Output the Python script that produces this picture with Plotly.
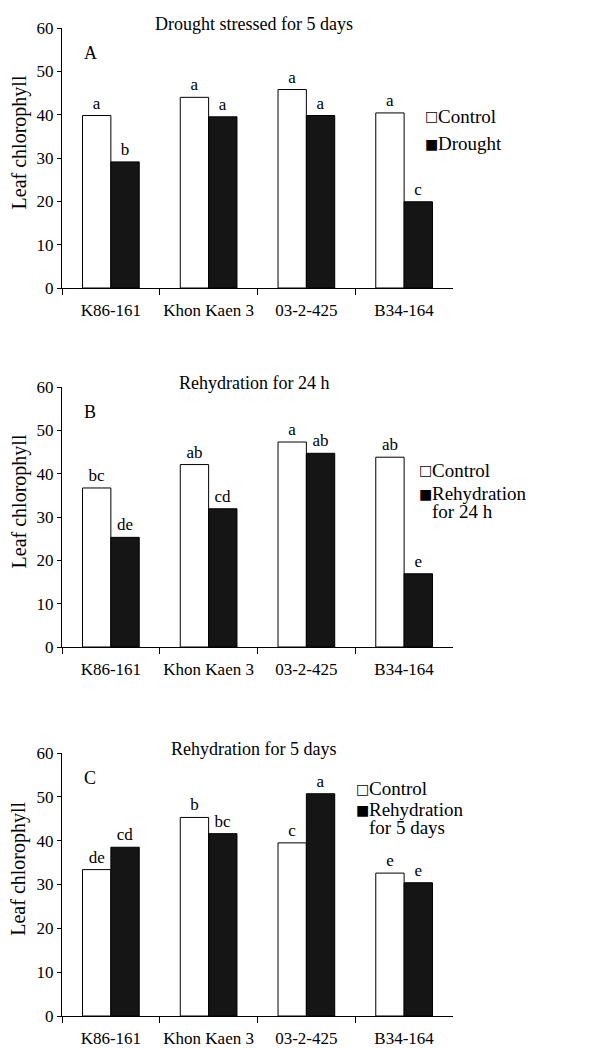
import plotly.graph_objects as go

cultivars = ["K86-161", "Khon Kaen 3", "03-2-425", "B34-164"]
y_ticks = [0, 10, 20, 30, 40, 50, 60]

titles = ["Drought stressed for 5 days", "Rehydration for 24 h", "Rehydration for 5 days"]
panel_letters = ["A", "B", "C"]

control_a = [39.8, 44.0, 45.8, 40.4]
drought_a = [29.1, 39.5, 39.8, 19.9]
control_a_lbl = ["a", "a", "a", "a"]
drought_a_lbl = ["b", "a", "a", "c"]

control_b = [36.7, 42.1, 47.3, 43.8]
rehyd24_b = [25.3, 31.9, 44.7, 16.9]
control_b_lbl = ["bc", "ab", "a", "ab"]
rehyd24_b_lbl = ["de", "cd", "ab", "e"]

control_c = [33.4, 45.3, 39.5, 32.6]
rehyd5_c = [38.5, 41.6, 50.7, 30.4]
control_c_lbl = ["de", "b", "c", "e"]
rehyd5_c_lbl = ["cd", "bc", "a", "e"]

treat_names = [["Drought"], ["Rehydration", "for 24 h"], ["Rehydration", "for 5 days"]]

FONT = "Liberation Serif"
W, H = 612, 1049
OFF = 8  # page body margin

panels = [
    (control_a, control_a_lbl, drought_a, drought_a_lbl),
    (control_b, control_b_lbl, rehyd24_b, rehyd24_b_lbl),
    (control_c, control_c_lbl, rehyd5_c, rehyd5_c_lbl),
]

# pixel layout of each panel (top, bottom) in page pixels
px_rows = [(28, 288), (387, 647), (753, 1016)]
x_left, x_right = 62, 453

# legend placement (data coords: x of square, y rows)
legend_pos = [
    (3.19, [39.6, 33.3]),
    (3.13, [40.8, 35.4, 31.2]),
    (2.49, [51.9, 47.1, 43.1]),
]

fig = go.Figure()
annotations = []

for i, (c_vals, c_lbl, t_vals, t_lbl) in enumerate(panels):
    n = "" if i == 0 else str(i + 1)
    xa, ya = "x" + n, "y" + n
    fig.add_trace(go.Bar(
        x=cultivars, y=c_vals, text=c_lbl, textposition="outside",
        constraintext="none", cliponaxis=False,
        textfont=dict(family=FONT, size=17, color="black"),
        marker=dict(color="white", line=dict(color="black", width=1)),
        xaxis=xa, yaxis=ya, showlegend=False, name="Control"))
    fig.add_trace(go.Bar(
        x=cultivars, y=t_vals, text=t_lbl, textposition="outside",
        constraintext="none", cliponaxis=False,
        textfont=dict(family=FONT, size=17, color="black"),
        marker=dict(color="#151515", line=dict(color="black", width=1)),
        xaxis=xa, yaxis=ya, showlegend=False, name=" ".join(treat_names[i])))

    top, bot = px_rows[i]
    dom_y = [1 - (bot - OFF) / H, 1 - (top - OFF) / H]
    dom_x = [(x_left - OFF) / W, (x_right - OFF) / W]
    axis_common = dict(showline=True, linecolor="black", linewidth=1,
                       ticks="outside", tickcolor="black", automargin=False,
                       tickfont=dict(family=FONT, size=17, color="black"),
                       showgrid=False, zeroline=False)
    fig.layout["xaxis" + n] = dict(domain=dom_x, anchor=ya, type="category",
                                   tickson="boundaries", ticklen=6, tickangle=0,
                                   ticklabelstandoff=7,
                                   range=[-0.5, 3.5], **axis_common)
    fig.layout["yaxis" + n] = dict(domain=dom_y, anchor=xa, range=[0, 60],
                                   tickvals=y_ticks, ticklen=4, **axis_common)

    # panel title
    annotations.append(dict(text=titles[i], xref=xa + " domain", yref=ya + " domain",
                            x=0.49, y=1.0, yshift=4, xanchor="center", yanchor="middle",
                            showarrow=False, font=dict(family=FONT, size=18, color="black")))
    # panel letter
    annotations.append(dict(text=panel_letters[i], xref=xa, yref=ya, x=-0.21,
                            y=54.3, xanchor="center", yanchor="middle", showarrow=False,
                            font=dict(family=FONT, size=18, color="black")))
    # y-axis title
    annotations.append(dict(text="Leaf chlorophyll", xref="paper", yref=ya + " domain",
                            x=(19 - OFF) / W, y=0.56, xanchor="center", yanchor="middle",
                            textangle=-90, showarrow=False,
                            font=dict(family=FONT, size=20, color="black")))
    # legend
    lx, rows = legend_pos[i]
    names = ["Control"] + treat_names[i]
    symbols = ["\u25A1", "\u25A0"] + [""] * (len(names) - 2)
    for j, (nm, sym) in enumerate(zip(names, symbols)):
        if sym:
            annotations.append(dict(text=sym, xref=xa, yref=ya, x=lx, y=rows[j],
                                    xanchor="left", yanchor="middle", showarrow=False,
                                    font=dict(family="DejaVu Sans", size=14, color="black")))
        annotations.append(dict(text=nm, xref=xa, yref=ya, x=lx, y=rows[j], xshift=13,
                                xanchor="left", yanchor="middle", showarrow=False,
                                font=dict(family=FONT, size=19, color="black")))

fig.update_layout(
    width=W, height=H, barmode="group", bargap=0.42, bargroupgap=0,
    plot_bgcolor="white", paper_bgcolor="white",
    margin=dict(l=0, r=0, t=0, b=0),
    annotations=annotations, showlegend=False,
)

fig.write_html("out.html")
